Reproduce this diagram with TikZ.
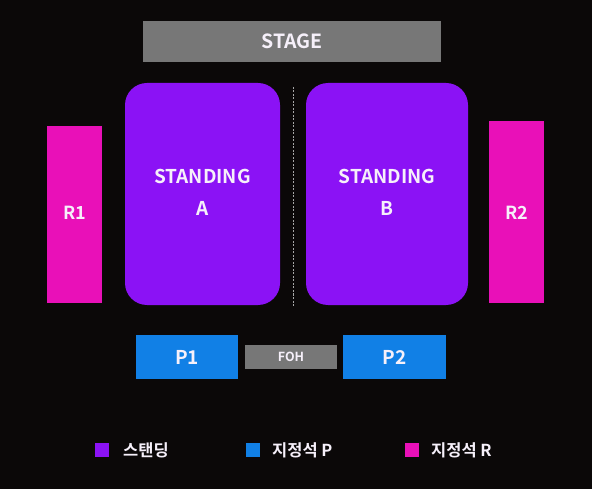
\documentclass[tikz,border=0pt]{standalone}
\usepackage{fontspec}
\setmainfont{Noto Sans CJK KR}[BoldFont=* Bold]
\definecolor{bgc}{HTML}{0B0808}
\definecolor{stand}{HTML}{8B12F5}
\definecolor{rseat}{HTML}{E910B8}
\definecolor{pseat}{HTML}{1180E6}
\definecolor{grayc}{HTML}{777777}
\definecolor{txt}{HTML}{F6F0FA}
\begin{document}
\begin{tikzpicture}[x=1pt,y=-1pt,
  area/.style={inner sep=0pt, text=txt, font=\bfseries, align=center},
  sq/.style={inner sep=0pt, minimum size=14pt},
  lg/.style={anchor=west, text=txt, inner sep=0pt, font=\bfseries\fontsize{16.5}{19}\selectfont}]
\fill[bgc] (0,0) rectangle (592,489);
\useasboundingbox (0,0) rectangle (592,489);
% stage
\fill[grayc] (143,21) rectangle (441,62);
\node[area, font=\bfseries\fontsize{19.5}{22}\selectfont] (stage) at (292,41.5) {STAGE};
% standing
\fill[stand, rounded corners=22pt] (125,83) rectangle (280,305);
\fill[stand, rounded corners=22pt] (306,83) rectangle (468,305);
\node[area, font=\bfseries\fontsize{19}{32}\selectfont] (sa) at (202.5,192) {STANDING\\A};
\node[area, font=\bfseries\fontsize{19}{32}\selectfont] (sb) at (387,192) {STANDING\\B};
\draw[gray!70, dash pattern=on 2pt off 1.5pt, line width=0.8pt] (293,87) -- (293,307);
% R seats
\fill[rseat] (47,126) rectangle (102,303);
\fill[rseat] (489,121) rectangle (544,303);
\node[area, font=\bfseries\fontsize{18}{21}\selectfont] (r1) at (74.5,213) {R1};
\node[area, font=\bfseries\fontsize{18}{21}\selectfont] (r2) at (516.5,213) {R2};
% P seats and FOH
\fill[pseat] (136,335) rectangle (238,379);
\fill[pseat] (343,335) rectangle (446,379);
\fill[grayc] (245,345) rectangle (337,369);
\node[area, font=\bfseries\fontsize{19}{22}\selectfont] (p1) at (187,357) {P1};
\node[area, font=\bfseries\fontsize{19}{22}\selectfont] (p2) at (394.5,357) {P2};
\node[area, font=\bfseries\fontsize{12.5}{14}\selectfont] (foh) at (291,357) {FOH};
% legend
\node[sq, fill=stand] (l1) at (102,450) {};
\node[lg] (t1) at (123,450) {스탠딩};
\node[sq, fill=pseat] (l2) at (253,450) {};
\node[lg] (t2) at (272,450) {지정석 P};
\node[sq, fill=rseat] (l3) at (412,450) {};
\node[lg] (t3) at (431,450) {지정석 R};
\end{tikzpicture}
\end{document}
